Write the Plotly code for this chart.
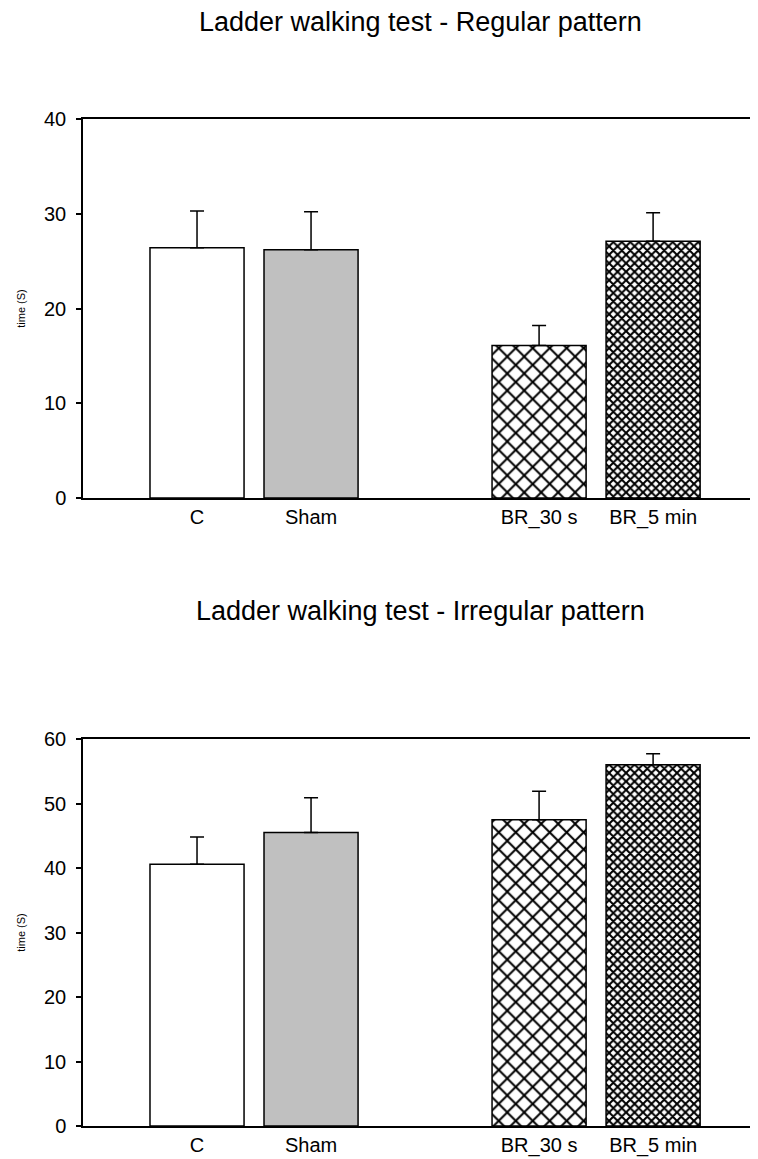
import plotly.graph_objects as go

# ---- data ----
categories = ["C", "Sham", "BR_30 s", "BR_5 min"]
x_pos = [0, 1, 3, 4]
regular_mean = [26.4, 26.2, 16.1, 27.1]
regular_err = [3.9, 4.0, 2.1, 3.0]
irregular_mean = [40.6, 45.5, 47.5, 56.0]
irregular_err = [4.2, 5.4, 4.4, 1.7]

title_top = "Ladder walking test - Regular pattern"
title_bottom = "Ladder walking test - Irregular pattern"
y_title = "time (S)"

# ---- style ----
FONT = "Arial, Liberation Sans, sans-serif"
bar_colors = ["white", "#c0c0c0", "white", "white"]
pat_shapes = ["", "", "x", "x"]
pat_sizes = [10, 10, 12, 6]
pat_solid = [0.2, 0.2, 0.3, 0.56]

# page body has an 8px margin; compensate so plot area lands at 83..758 / 119..1126
OFF = 8
W, H = 758 - OFF, 1159 - OFF
PL, PT, PB = 83, 119, 1126          # plot area in screen pixels
ML, MR, MT, MB = PL - OFF, 0, PT - OFF, (H + OFF) - PB


def py(p):
    return (PB - p) / (PB - PT)


fig = go.Figure()


def add_bars(vals, errs, xa, ya):
    for i in range(len(vals)):
        marker = dict(color=bar_colors[i], line=dict(color="black", width=1.5))
        if pat_shapes[i]:
            marker["pattern"] = dict(shape=pat_shapes[i], size=pat_sizes[i],
                                     solidity=pat_solid[i], fgcolor="black",
                                     fgopacity=1, bgcolor=bar_colors[i])
        fig.add_trace(go.Bar(
            x=[x_pos[i]], y=[vals[i]], width=0.825, xaxis=xa, yaxis=ya,
            marker=marker,
            error_y=dict(type="data", array=[errs[i]], arrayminus=[0],
                         symmetric=False, color="black", thickness=1.5, width=7),
            showlegend=False, hoverinfo="skip",
        ))


add_bars(regular_mean, regular_err, "x", "y")
add_bars(irregular_mean, irregular_err, "x2", "y2")

xcommon = dict(range=[-1, 4.92], tickvals=x_pos, ticktext=categories,
               showline=True, linecolor="black", linewidth=1.5, mirror=True,
               ticks="", showgrid=False, zeroline=False,
               tickfont=dict(family=FONT, size=20, color="black"), fixedrange=True)
ycommon = dict(showline=True, linecolor="black", linewidth=1.5, ticks="outside",
               ticklen=5, tickwidth=1.5, tickcolor="black", showgrid=False,
               zeroline=False, tickfont=dict(family=FONT, size=20, color="black"),
               ticklabelstandoff=6,
               title=dict(text=y_title, font=dict(family=FONT, size=11, color="black"),
                          standoff=16))

fig.update_layout(
    width=W, height=H,
    margin=dict(l=ML, r=MR, t=MT, b=MB),
    paper_bgcolor="white", plot_bgcolor="white",
    barmode="overlay",
    xaxis=dict(anchor="y", domain=[0, 1], **xcommon),
    yaxis=dict(anchor="x", domain=[py(498), 1], range=[0, 40],
               tickvals=[0, 10, 20, 30, 40], **ycommon),
    xaxis2=dict(anchor="y2", domain=[0, 1], **xcommon),
    yaxis2=dict(anchor="x2", domain=[0, py(739)], range=[0, 60],
                tickvals=[0, 10, 20, 30, 40, 50, 60], **ycommon),
    annotations=[
        dict(text=title_top, xref="paper", yref="paper", x=0.5, y=py(22),
             xanchor="center", yanchor="middle", showarrow=False,
             font=dict(family=FONT, size=27, color="black")),
        dict(text=title_bottom, xref="paper", yref="paper", x=0.5, y=py(611),
             xanchor="center", yanchor="middle", showarrow=False,
             font=dict(family=FONT, size=27, color="black")),
    ],
)

fig.write_html("out.html")
